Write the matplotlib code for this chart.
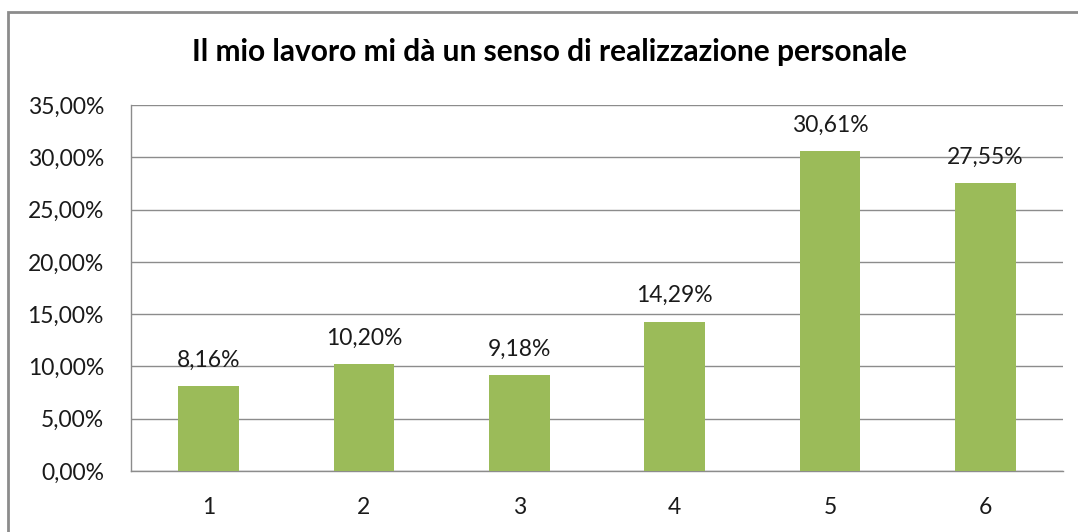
import matplotlib
matplotlib.use("Agg")
import matplotlib.pyplot as plt
from matplotlib.patches import Rectangle

categories = ["1", "2", "3", "4", "5", "6"]
values = [8.16, 10.20, 9.18, 14.29, 30.61, 27.55]
yticks = [0, 5, 10, 15, 20, 25, 30, 35]
title = "Il mio lavoro mi dà un senso di realizzazione personale"

plt.rcParams['font.family'] = ['Lato', 'DejaVu Sans']

W, H = 1078, 532
fig = plt.figure(figsize=(W / 100, H / 100), dpi=100)
ax = fig.add_axes([131 / W, 1 - 471 / H, (1063 - 131) / W, (471 - 105) / H])

x = list(range(len(categories)))
ax.bar(x, values, width=0.39, color="#9BBB59", zorder=3)
for xi, v in zip(x, values):
    ax.annotate(f"{v:.2f}%".replace(".", ","), (xi, v), xytext=(0, 11),
                textcoords="offset points", ha="center", va="bottom",
                fontsize=16.5, color="#1a1a1a")

ax.set_xlim(-0.5, len(categories) - 0.5)
ax.set_ylim(0, 35)
ax.set_yticks(yticks)
ax.set_yticklabels([f"{t:.2f}%".replace(".", ",") for t in yticks])
ax.set_xticks(x)
ax.set_xticklabels(categories)
ax.tick_params(axis="both", length=0, labelsize=16.5, colors="#1a1a1a")
ax.tick_params(axis="y", pad=19.5)
ax.tick_params(axis="x", pad=19)
ax.grid(axis="y", color="#8c8c8c", linewidth=1, zorder=0)
for s in ["top", "right"]:
    ax.spines[s].set_visible(False)
for s in ["left", "bottom"]:
    ax.spines[s].set_color("#8c8c8c")
    ax.spines[s].set_linewidth(1)

fig.text(550 / W, 1 - 52 / H, title, ha="center", va="center",
         fontsize=21.5, fontweight="bold", color="#000000")

fig.patches.append(Rectangle((8 / W, -0.1), 1.2, 1 - 12 / H + 0.1,
                             transform=fig.transFigure, fill=False,
                             edgecolor="#8c8c8c", linewidth=2))

fig.savefig("out.png", dpi=100)
